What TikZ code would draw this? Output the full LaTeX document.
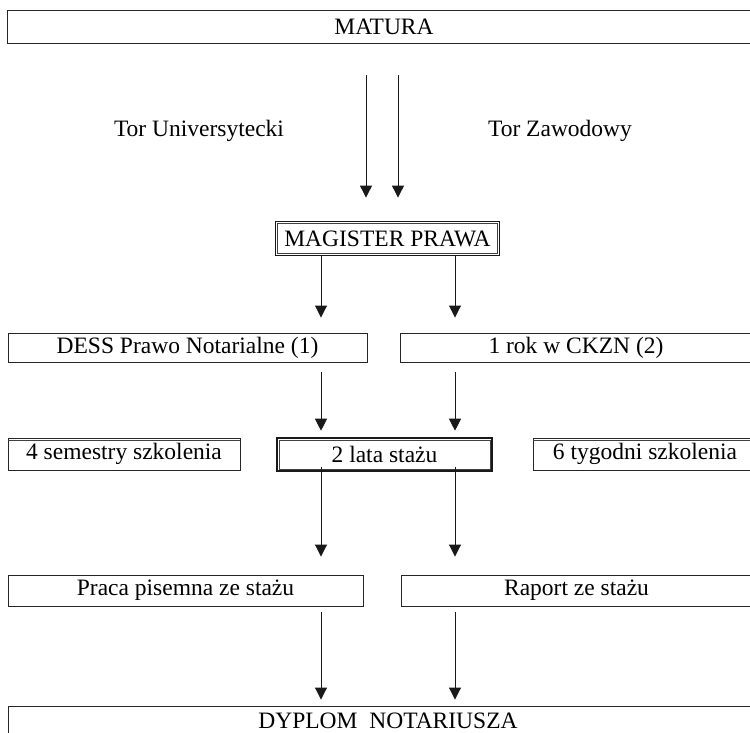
\documentclass[tikz,border=0pt]{standalone}
\usepackage{fontspec}
\setmainfont{Liberation Serif}
\usetikzlibrary{arrows.meta}
\begin{document}
\begin{tikzpicture}[x=1pt,y=-1pt,
  every node/.style={font=\fontsize{23.5}{28}\selectfont, inner sep=0pt, align=center},
  box/.style={draw=black!85, line width=0.9pt, rectangle},
  heavybox/.style={draw=black!90, line width=1.8pt, rectangle},
  thickbox/.style={draw=black!90, line width=2.6pt, rectangle},
  innerrule/.style={draw=black!75, line width=0.8pt},
  arr/.style={draw=black!90, line width=0.9pt, -{Triangle[length=12pt,width=12pt]}}]
\useasboundingbox (0,0) rectangle (750,733);
\clip (0,0) rectangle (750,733);

\node[box, minimum width=754pt, minimum height=33pt] (matura) at (384,26.5) {MATURA};
\node (tor1) at (199,131) {Tor Universytecki};
\node (tor2) at (560,131) {Tor Zawodowy};
\node[heavybox, minimum width=224pt, minimum height=34pt] (magister) at (387.5,238.5) {MAGISTER PRAWA};
\node[box, minimum width=359pt, minimum height=29pt] (dess) at (187.5,347.5) {DESS Prawo Notarialne (1)};
\node[box, minimum width=352pt, minimum height=29pt] (onerok) at (576,347.5) {1 rok w CKZN (2)};
\node[box, minimum width=232pt, minimum height=32pt] (sem) at (124,454) {4 semestry szkolenia};
\node[thickbox, minimum width=215pt, minimum height=33pt] (twolata) at (384.5,454.5) {2 lata stażu};
\node[box, minimum width=224pt, minimum height=32pt] (tyg) at (645,454) {6 tygodni szkolenia};
\node[box, minimum width=355pt, minimum height=31pt] (praca) at (185.5,590.5) {Praca pisemna ze stażu};
\node[box, minimum width=351pt, minimum height=31pt] (raport) at (576.5,590.5) {Raport ze stażu};
\node[box, minimum width=760pt, minimum height=34pt] (dyplom) at (388,723) {};
\node (dyplomtext) at (388,720.5) {DYPLOM\ \ NOTARIUSZA};

% inner rules of the framed boxes
\draw[innerrule] ([shift={(3pt,-3pt)}]magister.north west) rectangle ([shift={(-3pt,3pt)}]magister.south east);
\draw[innerrule] ([shift={(3.2pt,-3.2pt)}]twolata.north west) rectangle ([shift={(-3.2pt,3.2pt)}]twolata.south east);
% second top rule on side boxes
\draw[innerrule] ([yshift=-3pt]sem.north west) -- ([yshift=-3pt]sem.north east);
\draw[innerrule] ([yshift=-3pt]tyg.north west) -- ([yshift=-3pt]tyg.north east);

\coordinate (a1) at (366,0);
\coordinate (a2) at (398,0);
\coordinate (c1) at (321,0);
\coordinate (c2) at (455,0);

\draw[arr, shorten <=32pt, shorten >=23pt] (matura.south -| a1) -- (magister.north -| a1);
\draw[arr, shorten <=32pt, shorten >=23pt] (matura.south -| a2) -- (magister.north -| a2);

\draw[arr, shorten >=15pt] (magister.south -| c1) -- (dess.north -| c1);
\draw[arr, shorten >=15pt] (magister.south -| c2) -- (onerok.north -| c2);

\draw[arr, shorten <=10pt, shorten >=6pt] (dess.south -| c1) -- (twolata.north -| c1);
\draw[arr, shorten <=10pt, shorten >=6pt] (onerok.south -| c2) -- (twolata.north -| c2);

\draw[arr, shorten <=-5pt, shorten >=18pt] (twolata.south -| c1) -- (praca.north -| c1);
\draw[arr, shorten <=-5pt, shorten >=18pt] (twolata.south -| c2) -- (raport.north -| c2);

\draw[arr, shorten <=6pt, shorten >=6pt] (praca.south -| c1) -- (dyplom.north -| c1);
\draw[arr, shorten <=6pt, shorten >=6pt] (raport.south -| c2) -- (dyplom.north -| c2);
\end{tikzpicture}
\end{document}
